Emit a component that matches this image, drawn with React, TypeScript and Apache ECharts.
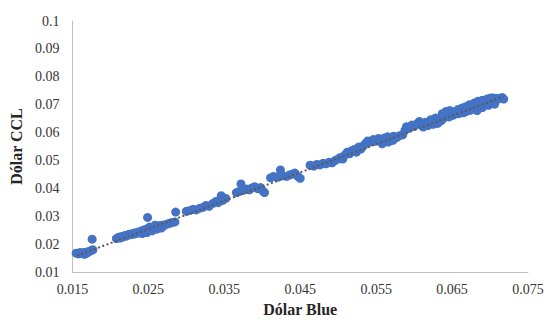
import React, { useEffect, useRef } from "react";
import * as echarts from "echarts";

// Dólar Blue (x) values
const blueX: number[] = [
  0.0155, 0.0158, 0.0160, 0.0162, 0.0164, 0.0166, 0.0167, 0.0169, 0.0171, 0.0173, 0.0175, 0.0177, 0.0176,
  0.0208, 0.0211, 0.0213, 0.0215, 0.0217, 0.0219, 0.0221, 0.0223, 0.0225, 0.0227, 0.0229, 0.0231, 0.0233,
  0.0235, 0.0237, 0.0239, 0.0241, 0.0243, 0.0245, 0.0247, 0.0249, 0.0250, 0.0252, 0.0254, 0.0256, 0.0258,
  0.0260, 0.0262, 0.0264, 0.0266, 0.0268, 0.0270, 0.0273, 0.0276, 0.0279, 0.0282, 0.0285, 0.0249, 0.0286,
  0.0242, 0.0248, 0.0255, 0.0261, 0.0267, 0.0252, 0.0259,
  0.0300, 0.0305, 0.0309, 0.0313, 0.0318, 0.0322, 0.0326, 0.0330, 0.0335, 0.0339, 0.0342, 0.0344, 0.0346,
  0.0349, 0.0352, 0.0348,
  0.0366, 0.0370, 0.0372, 0.0375, 0.0379, 0.0383, 0.0386, 0.0390, 0.0394, 0.0398, 0.0401, 0.0403,
  0.0411, 0.0415, 0.0420, 0.0424, 0.0427, 0.0432, 0.0436, 0.0440, 0.0443, 0.0447, 0.0450,
  0.0463, 0.0468, 0.0472, 0.0476, 0.0480, 0.0484, 0.0488, 0.0492, 0.0496, 0.0500, 0.0503, 0.0506, 0.0509,
  0.0512, 0.0515, 0.0518, 0.0521, 0.0524, 0.0527, 0.0530, 0.0533, 0.0536, 0.0539, 0.0542, 0.0546, 0.0549,
  0.0553, 0.0557, 0.0561, 0.0565, 0.0569, 0.0573, 0.0577, 0.0581, 0.0585, 0.0588, 0.0590, 0.0593, 0.0597,
  0.0600, 0.0604, 0.0607, 0.0558, 0.0566, 0.0572,
  0.0611, 0.0615, 0.0618, 0.0621, 0.0624, 0.0627, 0.0630, 0.0633, 0.0636, 0.0639, 0.0641, 0.0644, 0.0646,
  0.0649, 0.0651, 0.0654, 0.0657, 0.0659, 0.0662, 0.0665, 0.0667, 0.0669, 0.0672, 0.0674, 0.0676, 0.0678,
  0.0680, 0.0682, 0.0685, 0.0687, 0.0689, 0.0691, 0.0693, 0.0695, 0.0697, 0.0700, 0.0702, 0.0705, 0.0707,
  0.0712, 0.0716, 0.0718, 0.0704, 0.0708,
  0.0637, 0.0642, 0.0647, 0.0652, 0.0658, 0.0663, 0.0668, 0.0673, 0.0679, 0.0684, 0.0690, 0.0696, 0.0701,
  0.0683, 0.0690, 0.0698, 0.0706, 0.0612, 0.0618, 0.0625, 0.0631, 0.0628, 0.0622,
];

// Dólar CCL (y) values
const cclY: number[] = [
  0.0168, 0.0165, 0.0170, 0.0166, 0.0169, 0.0164, 0.0171, 0.0168, 0.0173, 0.0175, 0.0178, 0.0180, 0.0218,
  0.0220, 0.0225, 0.0222, 0.0228, 0.0226, 0.0231, 0.0229, 0.0233, 0.0236, 0.0234, 0.0238, 0.0236, 0.0241,
  0.0239, 0.0244, 0.0242, 0.0248, 0.0245, 0.0252, 0.0249, 0.0256, 0.0247, 0.0258, 0.0253, 0.0261, 0.0257,
  0.0263, 0.0259, 0.0266, 0.0262, 0.0268, 0.0265, 0.0271, 0.0273, 0.0276, 0.0278, 0.0280, 0.0296, 0.0315,
  0.0238, 0.0242, 0.0248, 0.0254, 0.0258, 0.0262, 0.0268,
  0.0318, 0.0321, 0.0325, 0.0323, 0.0329, 0.0332, 0.0339, 0.0336, 0.0346, 0.0353, 0.0349, 0.0358, 0.0374,
  0.0366, 0.0364, 0.0357,
  0.0385, 0.0389, 0.0416, 0.0393, 0.0398, 0.0395, 0.0401, 0.0406, 0.0399, 0.0403, 0.0390, 0.0385,
  0.0438, 0.0443, 0.0440, 0.0466, 0.0445, 0.0443, 0.0448, 0.0452, 0.0455, 0.0443, 0.0436,
  0.0483, 0.0480, 0.0486, 0.0484, 0.0490, 0.0488, 0.0494, 0.0492, 0.0500, 0.0506, 0.0511, 0.0505, 0.0520,
  0.0530, 0.0524, 0.0535, 0.0539, 0.0530, 0.0548, 0.0541, 0.0552, 0.0561, 0.0570, 0.0566, 0.0575, 0.0569,
  0.0579, 0.0574, 0.0581, 0.0585, 0.0578, 0.0587, 0.0582, 0.0589, 0.0592, 0.0608, 0.0621, 0.0615, 0.0627,
  0.0622, 0.0632, 0.0640, 0.0560, 0.0566, 0.0572,
  0.0630, 0.0637, 0.0632, 0.0641, 0.0636, 0.0644, 0.0639, 0.0648, 0.0643, 0.0652, 0.0661, 0.0667, 0.0656,
  0.0670, 0.0662, 0.0666, 0.0674, 0.0668, 0.0677, 0.0671, 0.0682, 0.0676, 0.0686, 0.0680, 0.0691, 0.0685,
  0.0695, 0.0688, 0.0700, 0.0693, 0.0704, 0.0698, 0.0708, 0.0702, 0.0710, 0.0706, 0.0712, 0.0709, 0.0711,
  0.0722, 0.0726, 0.0720, 0.0724, 0.0723,
  0.0668, 0.0676, 0.0679, 0.0675, 0.0683, 0.0688, 0.0693, 0.0700, 0.0706, 0.0712, 0.0716, 0.0720, 0.0724,
  0.0679, 0.0690, 0.0698, 0.0702, 0.0620, 0.0625, 0.0630, 0.0633, 0.0652, 0.0646,
];

// Linear trendline endpoints
const trendX: number[] = [0.0156, 0.0718];
const trendY: number[] = [0.0159, 0.0729];

const xAxisTitle = "Dólar Blue";
const yAxisTitle = "Dólar CCL";

const fmt = (v: number) => parseFloat(v.toFixed(4)).toString();

export default function App() {
  const ref = useRef<HTMLDivElement>(null);
  useEffect(() => {
    if (!ref.current) return;
    const chart = echarts.init(ref.current, undefined, { renderer: "svg" });
    const serif = "Liberation Serif";
    chart.setOption({
      animation: false,
      backgroundColor: "#ffffff",
      grid: { left: 68, right: 20, top: 21, bottom: 44, containLabel: false },
      xAxis: {
        type: "value",
        min: 0.015,
        max: 0.075,
        interval: 0.005,
        name: xAxisTitle,
        nameLocation: "middle",
        nameGap: 28,
        nameTextStyle: { fontFamily: serif, fontWeight: "bold", fontSize: 16, color: "#262626" },
        axisLine: { show: true, lineStyle: { color: "#bfbfbf", width: 1 } },
        axisTick: { show: false },
        splitLine: { show: false },
        axisLabel: {
          fontFamily: serif,
          fontSize: 14,
          color: "#333333",
          margin: 10,
          showMinLabel: true,
          showMaxLabel: true,
          formatter: (v: number) => (Math.round(v * 1000) % 10 === 5 ? fmt(v) : ""),
        },
      },
      yAxis: {
        type: "value",
        min: 0.01,
        max: 0.1,
        interval: 0.01,
        name: yAxisTitle,
        nameLocation: "middle",
        nameGap: 44,
        nameRotate: 90,
        nameTextStyle: { fontFamily: serif, fontWeight: "bold", fontSize: 16, color: "#262626" },
        axisLine: { show: true, lineStyle: { color: "#bfbfbf", width: 1 } },
        axisTick: { show: false },
        splitLine: { show: false },
        axisLabel: {
          fontFamily: serif,
          fontSize: 14,
          color: "#333333",
          margin: 13,
          formatter: (v: number) => fmt(v),
        },
      },
      series: [
        {
          type: "scatter",
          symbol: "circle",
          symbolSize: 9,
          itemStyle: { color: "#4472c4", opacity: 1 },
          data: blueX.map((x, i) => [x, cclY[i]]),
          z: 2,
        },
        {
          type: "line",
          data: trendX.map((x, i) => [x, trendY[i]]),
          showSymbol: false,
          symbol: "none",
          lineStyle: { color: "#595959", width: 2, type: [2, 2.5], cap: "butt" },
          z: 3,
        },
      ],
    });
    return () => chart.dispose();
  }, []);
  return (
    <div
      ref={ref}
      style={{ position: "fixed", left: 0, top: 0, width: 548, height: 322 }}
    />
  );
}
